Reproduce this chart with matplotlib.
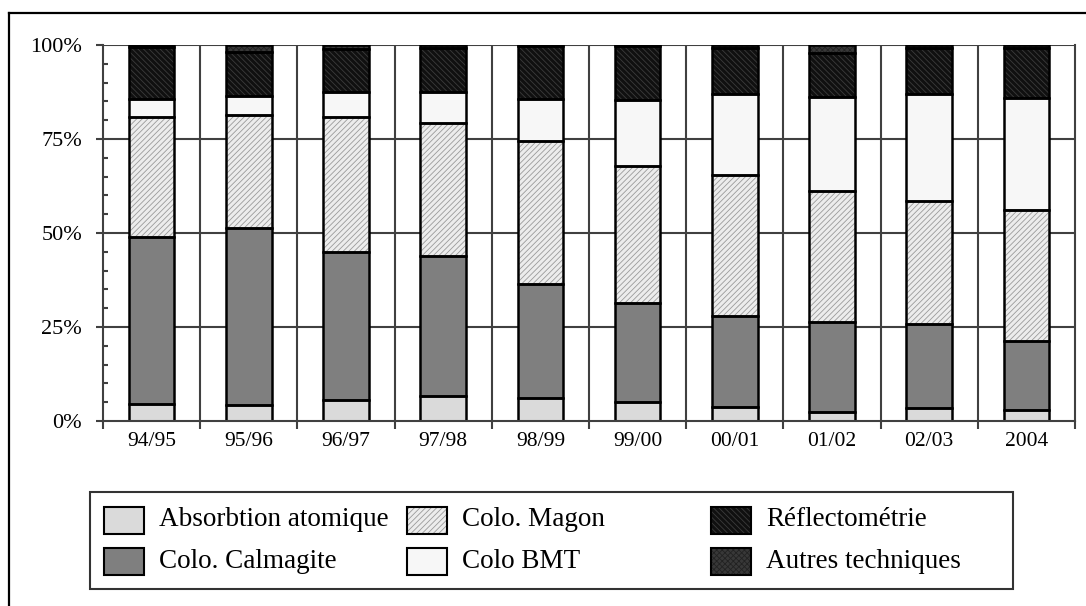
import matplotlib
matplotlib.use("Agg")
import matplotlib.pyplot as plt
import numpy as np
from matplotlib.patches import Rectangle
from matplotlib.lines import Line2D
from matplotlib.ticker import FixedLocator, FuncFormatter

# campagnes
years = ["94/95", "95/96", "96/97", "97/98", "98/99", "99/00", "00/01", "01/02", "02/03", "2004"]

# parts de chaque technique (%)
absorption = [4.5, 4.3, 5.6, 6.6, 6.0, 5.0, 3.8, 2.5, 3.5, 2.8]
calmagite = [44.4, 47.0, 39.4, 37.3, 30.4, 26.4, 24.2, 23.7, 22.3, 18.6]
magon = [32.0, 30.1, 35.9, 35.4, 38.2, 36.5, 37.5, 35.1, 32.8, 34.7]
bmt = [4.7, 5.1, 6.5, 8.1, 11.0, 17.5, 21.5, 24.8, 28.4, 29.7]
reflecto = [13.9, 11.7, 11.5, 11.8, 14.2, 14.4, 12.2, 11.7, 12.1, 13.3]
autres = [0.5, 1.8, 1.1, 0.8, 0.2, 0.2, 0.8, 2.2, 0.9, 0.9]

series_names = ["Absorbtion atomique", "Colo. Calmagite", "Colo. Magon",
                "Colo BMT", "Réflectométrie", "Autres techniques"]
series_values = [absorption, calmagite, magon, bmt, reflecto, autres]

# (face, hatch, couleur des hachures)
styles = [
    ("#dadada", None, None),
    ("#7f7f7f", None, None),
    ("#ececec", "//////", "#9a9a9a"),
    ("#f7f7f7", None, None),
    ("#101010", "\\\\\\\\\\\\", "#3c3c3c"),
    ("#383838", "xxxxxx", "#222222"),
]

plt.rcParams["font.family"] = ["Liberation Serif", "DejaVu Serif"]

W, H = 1086, 606
fig = plt.figure(figsize=(W / 100, H / 100), dpi=100)


def fx(x):
    return x / W


def fy(y):
    return 1 - y / H


ax = fig.add_axes([fx(103), fy(421), fx(1075) - fx(103), fy(45) - fy(421)])

x = np.arange(len(years))
bottom = np.zeros(len(years))
bar_w = 0.47
for vals, (face, hatch, hcol) in zip(series_values, styles):
    vals = np.array(vals)
    with plt.rc_context({"hatch.color": hcol or "black", "hatch.linewidth": 0.6}):
        ax.bar(x, vals, bar_w, bottom=bottom, color=face, hatch=hatch,
               linewidth=0, zorder=2)
    ax.bar(x, vals, bar_w, bottom=bottom, fill=False, edgecolor="black",
           linewidth=1.8, zorder=3)
    bottom += vals

grid_c = "#404040"
for yv in [25, 50, 75, 100]:
    ax.axhline(yv, color=grid_c, linewidth=1.5, zorder=1)
for xv in np.arange(0.5, len(years) - 0.5, 1.0):
    ax.axvline(xv, color=grid_c, linewidth=1.5, zorder=1)

ax.set_xlim(-0.5, len(years) - 0.5)
ax.set_ylim(0, 100)
ax.spines["top"].set_visible(False)
for side in ["left", "right", "bottom"]:
    ax.spines[side].set_color(grid_c)
    ax.spines[side].set_linewidth(1.5)
ax.spines["bottom"].set_zorder(4)

ax.set_xticks(x)
ax.set_xticklabels(years, fontsize=15.5)
ax.xaxis.set_minor_locator(FixedLocator(np.arange(-0.5, len(years), 1.0)))
ax.tick_params(axis="x", which="major", length=0, pad=8)
ax.tick_params(axis="x", which="minor", length=6, width=1.5, color=grid_c, direction="out")

ax.set_yticks([0, 25, 50, 75, 100])
ax.yaxis.set_major_formatter(FuncFormatter(lambda v, _: f"{v:.0f}%"))
ax.yaxis.set_minor_locator(FixedLocator([v for v in range(5, 100, 5) if v % 25]))
ax.tick_params(axis="y", which="major", length=5, width=1.5, color=grid_c,
               direction="out", labelsize=16, pad=10)
ax.tick_params(axis="y", which="minor", length=3.5, width=1.5, color=grid_c,
               direction="in")

# cadre extérieur (coupé à droite et en bas)
fig.add_artist(Line2D([fx(9), fx(9)], [fy(13), 0], color="black", linewidth=1.6,
                      transform=fig.transFigure))
fig.add_artist(Line2D([fx(9), 1], [fy(13), fy(13)], color="black", linewidth=1.6,
                      transform=fig.transFigure))

# légende
fig.add_artist(Rectangle((fx(90), fy(589)), fx(1013) - fx(90), fy(492) - fy(589),
                         fill=False, edgecolor="#333333", linewidth=1.5,
                         transform=fig.transFigure))
col_x = [104, 407, 711]
row_y = [520, 561]
sw_w, sw_h = 40, 27
for i, (name, (face, hatch, hcol)) in enumerate(zip(series_names, styles)):
    cx = col_x[i // 2]
    cy = row_y[i % 2]
    with plt.rc_context({"hatch.color": hcol or "black", "hatch.linewidth": 0.6}):
        fig.add_artist(Rectangle((fx(cx), fy(cy + sw_h / 2)), fx(sw_w), sw_h / H,
                                 facecolor=face, hatch=hatch, linewidth=0,
                                 transform=fig.transFigure))
    fig.add_artist(Rectangle((fx(cx), fy(cy + sw_h / 2)), fx(sw_w), sw_h / H,
                             fill=False, edgecolor="black", linewidth=1.5,
                             transform=fig.transFigure))
    fig.text(fx(cx + sw_w + 15), fy(cy), name, fontsize=19.5, va="center", ha="left")

fig.savefig("out.png", dpi=100)
plt.close(fig)
